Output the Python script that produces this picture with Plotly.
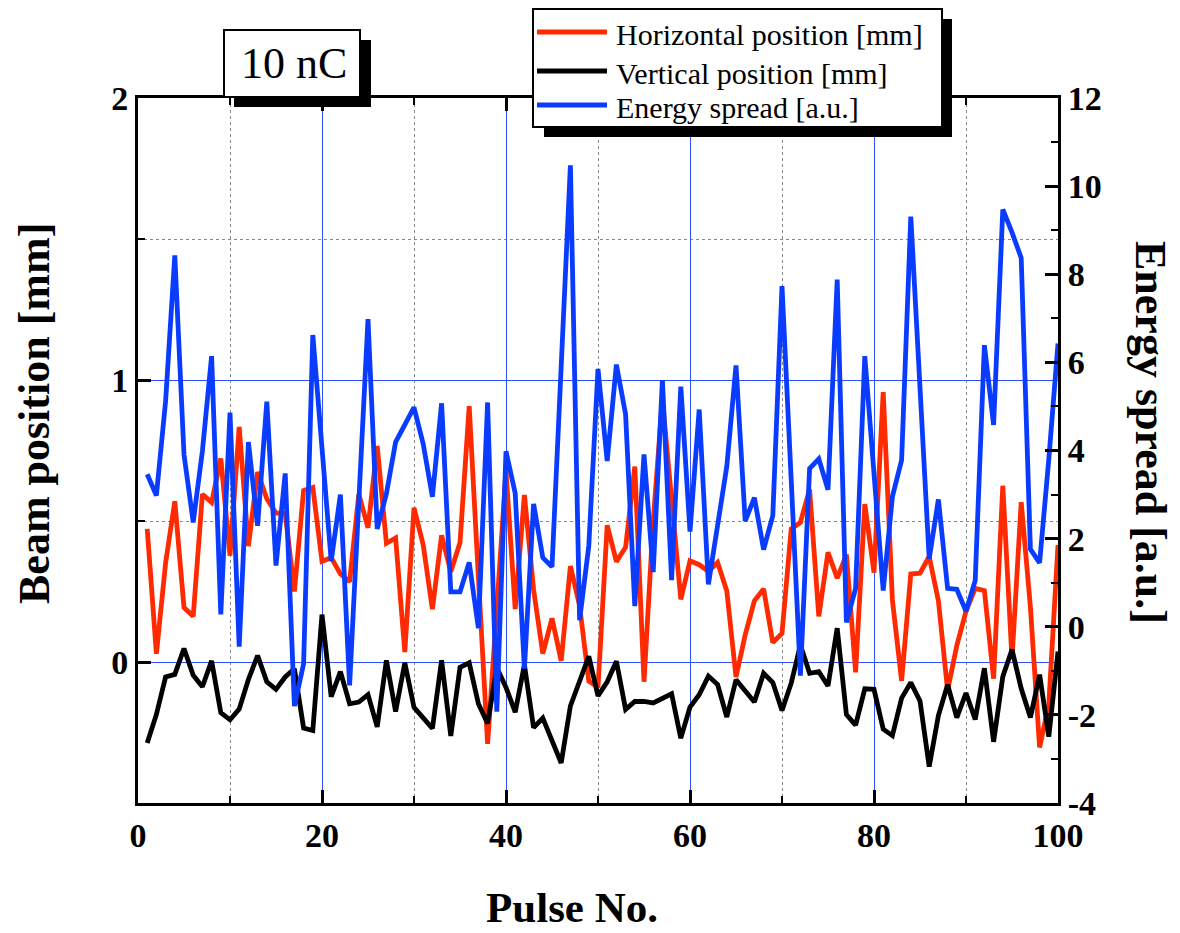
import plotly.graph_objects as go

# ---------------- data ----------------
pulse = list(range(1, 101))

horizontal_mm = [
    0.472, 0.029, 0.351, 0.570, 0.193, 0.162, 0.595, 0.566, 0.722, 0.377,
    0.834, 0.411, 0.674, 0.579, 0.528, 0.528, 0.250, 0.608, 0.619, 0.357,
    0.370, 0.312, 0.285, 0.595, 0.476, 0.766, 0.421, 0.440, 0.035, 0.547,
    0.415, 0.187, 0.449, 0.320, 0.424, 0.907, 0.300, -0.290, 0.190, 0.676,
    0.188, 0.592, 0.256, 0.030, 0.155, 0.004, 0.340, 0.200, -0.068, -0.090,
    0.485, 0.356, 0.407, 0.693, -0.070, 0.500, 0.930, 0.580, 0.222, 0.359,
    0.345, 0.321, 0.353, 0.252, -0.053, 0.096, 0.217, 0.259, 0.069, 0.101,
    0.472, 0.495, 0.612, 0.162, 0.389, 0.297, 0.381, -0.037, 0.560, 0.317,
    0.957, 0.220, -0.067, 0.312, 0.315, 0.374, 0.217, -0.100, 0.058, 0.180,
    0.261, 0.253, -0.059, 0.625, 0.010, 0.567, 0.195, -0.303, -0.150, 0.415,
]

vertical_mm = [
    -0.287, -0.186, -0.053, -0.044, 0.048, -0.047, -0.088, 0.004, -0.180, -0.205,
    -0.167, -0.062, 0.023, -0.070, -0.097, -0.053, -0.024, -0.234, -0.243, 0.168,
    -0.123, -0.034, -0.148, -0.142, -0.116, -0.230, 0.006, -0.176, -0.003, -0.161,
    -0.198, -0.236, 0.006, -0.262, -0.019, -0.003, -0.148, -0.218, -0.020, -0.090,
    -0.178, -0.010, -0.233, -0.199, -0.279, -0.358, -0.156, -0.062, 0.020, -0.120,
    -0.070, 0.003, -0.168, -0.140, -0.140, -0.145, -0.130, -0.113, -0.270, -0.160,
    -0.116, -0.050, -0.080, -0.195, -0.063, -0.100, -0.142, -0.040, -0.073, -0.172,
    -0.075, 0.060, -0.040, -0.034, -0.085, 0.120, -0.186, -0.224, -0.095, -0.097,
    -0.238, -0.261, -0.128, -0.073, -0.138, -0.371, -0.190, -0.080, -0.197, -0.110,
    -0.204, -0.022, -0.283, -0.052, 0.044, -0.094, -0.197, -0.045, -0.265, 0.037,
]

energy_spread_au = [
    3.46, 2.98, 5.12, 8.43, 3.91, 2.37, 3.99, 6.14, 0.28, 4.86,
    -0.45, 4.19, 2.29, 5.11, 1.39, 3.48, -1.80, -0.84, 6.62, 4.12,
    1.49, 3.00, -1.33, 2.84, 6.98, 2.22, 3.02, 4.19, 4.57, 4.98,
    4.15, 2.95, 5.07, 0.79, 0.79, 1.46, -0.03, 5.09, -1.93, 3.98,
    3.03, -0.95, 2.79, 1.57, 1.36, 5.91, 10.47, 0.15, 1.84, 5.85,
    3.76, 5.95, 4.82, 0.47, 3.91, 1.24, 5.60, 1.06, 5.45, 2.16,
    4.93, 0.96, 2.28, 3.64, 5.93, 2.40, 2.93, 1.75, 2.52, 7.73,
    3.34, -1.11, 3.59, 3.81, 3.11, 7.88, 0.10, 0.87, 6.14, 3.35,
    0.82, 2.95, 3.78, 9.31, 5.27, 1.54, 2.89, 0.87, 0.85, 0.35,
    1.05, 6.39, 4.58, 9.47, 8.95, 8.37, 1.76, 1.45, 3.80, 6.43,
]

series_names = ["Horizontal position [mm]", "Vertical position [mm]", "Energy spread [a.u.]"]

x_tick_vals = [0, 20, 40, 60, 80, 100]
x_tick_text = ["0", "20", "40", "60", "80", "100"]
left_tick_vals = [0, 1, 2]
left_tick_text = ["0", "1", "2"]
right_tick_vals = [-4, -2, 0, 2, 4, 6, 8, 10, 12]
right_tick_text = ["-4", "-2", "0", "2", "4", "6", "8", "10", "12"]

axis_titles = {"x": "Pulse No.", "y": "Beam position [mm]", "y2": "Energy spread [a.u.]"}
label_text = "10 nC"

# ---------------- layout geometry (page pixels) ----------------
W, H = 1180, 933
L, R, T, B = 138, 122, 98, 130
PW, PH = W - L - R, H - T - B


def px(x):
    return (x - L) / PW


def py(y):
    return (H - B - y) / PH


RED = "#ff2a00"
BLACK = "#000000"
BLUE = "#0a3cff"
GRIDBLUE = "#2d50ff"
SERIF = "Liberation Serif"
colors = [RED, BLACK, BLUE]
LW = 4.8

fig = go.Figure()
fig.add_trace(go.Scatter(x=pulse, y=horizontal_mm, name=series_names[0], mode="lines",
                         line=dict(color=RED, width=LW), yaxis="y"))
fig.add_trace(go.Scatter(x=pulse, y=vertical_mm, name=series_names[1], mode="lines",
                         line=dict(color=BLACK, width=LW), yaxis="y"))
fig.add_trace(go.Scatter(x=pulse, y=energy_spread_au, name=series_names[2], mode="lines",
                         line=dict(color=BLUE, width=LW), yaxis="y2"))

tickfont = dict(family=SERIF, size=34, color="black", weight="bold")

fig.update_layout(
    width=W, height=H,
    margin=dict(l=L, r=R, t=T, b=B, autoexpand=False),
    paper_bgcolor="white", plot_bgcolor="white",
    showlegend=False,
    xaxis=dict(
        range=[0, 100], tickmode="array", tickvals=x_tick_vals, ticktext=x_tick_text,
        ticks="inside", ticklen=13, tickwidth=2.5, tickcolor="black",
        showline=True, linewidth=3, linecolor="black", mirror="ticks",
        showgrid=True, gridcolor=GRIDBLUE, gridwidth=1, zeroline=False,
        tickfont=tickfont,
        minor=dict(tick0=0, dtick=10, ticks="inside", ticklen=7, tickwidth=2, tickcolor="black",
                   showgrid=True, gridcolor="#888888", griddash="dot", gridwidth=1),
    ),
    yaxis=dict(
        range=[-0.5, 2], tickmode="array", tickvals=left_tick_vals, ticktext=left_tick_text,
        ticks="inside", ticklen=13, tickwidth=2.5, tickcolor="black",
        showline=True, linewidth=3, linecolor="black", mirror=True,
        showgrid=True, gridcolor=GRIDBLUE, gridwidth=1, zeroline=False,
        tickfont=tickfont,
        minor=dict(tick0=0, dtick=0.5, ticks="inside", ticklen=7, tickwidth=2, tickcolor="black",
                   showgrid=True, gridcolor="#888888", griddash="dot", gridwidth=1),
    ),
    yaxis2=dict(
        overlaying="y", side="right", range=[-4, 12],
        tickmode="array", tickvals=right_tick_vals, ticktext=right_tick_text,
        ticks="inside", ticklen=13, tickwidth=2.5, tickcolor="black",
        showline=True, linewidth=3, linecolor="black",
        showgrid=False, zeroline=False, tickfont=tickfont,
        minor=dict(tick0=0, dtick=1, ticks="inside", ticklen=7, tickwidth=2, tickcolor="black"),
    ),
)

# ---------------- legend box (drawn with shapes + text) and "10 nC" label ----------------
legend_rows_y = [32, 71, 105]
shapes = [
    # legend shadow and box
    dict(type="rect", xref="paper", yref="paper", x0=px(544), x1=px(952), y0=py(137), y1=py(19),
         fillcolor="black", line=dict(width=0), layer="above"),
    dict(type="rect", xref="paper", yref="paper", x0=px(533), x1=px(942), y0=py(127), y1=py(9),
         fillcolor="white", line=dict(width=2, color="black"), layer="above"),
    # "10 nC" shadow and box
    dict(type="rect", xref="paper", yref="paper", x0=px(234), x1=px(371), y0=py(107), y1=py(40),
         fillcolor="black", line=dict(width=0), layer="above"),
    dict(type="rect", xref="paper", yref="paper", x0=px(224), x1=px(360), y0=py(97), y1=py(30),
         fillcolor="white", line=dict(width=2, color="black"), layer="above"),
]
for c, ry in zip(colors, legend_rows_y):
    shapes.append(dict(type="line", xref="paper", yref="paper", x0=px(537), x1=px(607),
                       y0=py(ry), y1=py(ry), line=dict(color=c, width=5), layer="above"))
fig.update_layout(shapes=shapes)

annotations = [
    dict(text=label_text, xref="paper", yref="paper", x=px(294), y=py(63.5),
         showarrow=False, font=dict(family=SERIF, size=44, color="black"),
         xanchor="center", yanchor="middle"),
    dict(text=axis_titles["x"], xref="paper", yref="paper", x=px(572), y=py(933),
         showarrow=False, font=dict(family=SERIF, size=43, color="black", weight="bold"),
         xanchor="center", yanchor="bottom"),
    dict(text=axis_titles["y"], xref="paper", yref="paper", x=px(34), y=py(414),
         showarrow=False, textangle=-90, font=dict(family=SERIF, size=44, color="black", weight="bold"),
         xanchor="center", yanchor="middle"),
    dict(text=axis_titles["y2"], xref="paper", yref="paper", x=px(1151), y=py(432),
         showarrow=False, textangle=90, font=dict(family=SERIF, size=44, color="black", weight="bold"),
         xanchor="center", yanchor="middle"),
]
for name, ry in zip(series_names, legend_rows_y):
    annotations.append(dict(text=name, xref="paper", yref="paper", x=px(614), y=py(ry + 2),
                            showarrow=False, font=dict(family=SERIF, size=30, color="black"),
                            xanchor="left", yanchor="middle"))
fig.update_layout(annotations=annotations)

# the page is photographed at 1180x933: remove the default 8px body margin so the
# figure fills the window exactly; hide the mode bar
fig.write_html("out.html", config={"displayModeBar": False},
               post_script="document.body.style.margin='0px';")
